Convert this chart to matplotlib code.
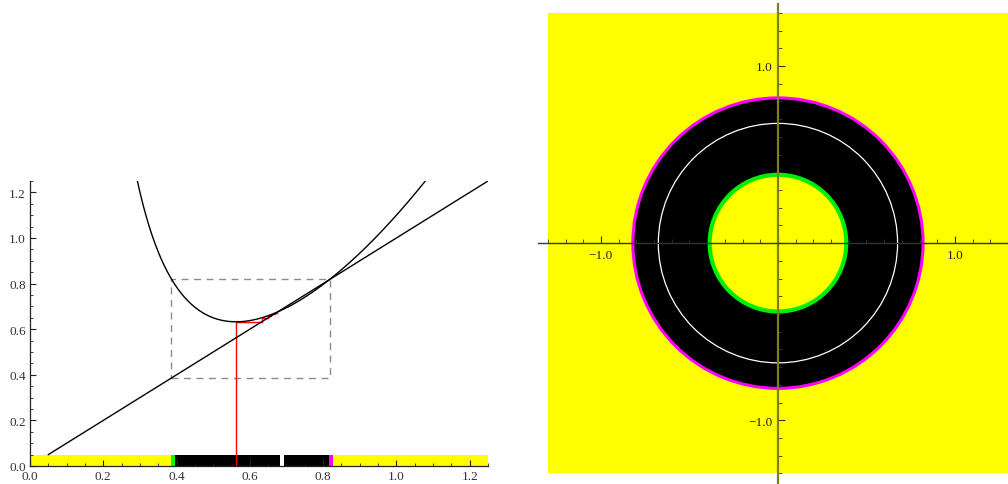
import matplotlib

matplotlib.use("Agg")
import matplotlib.pyplot as plt
import numpy as np
from matplotlib.patches import Circle, Rectangle
from matplotlib.ticker import MultipleLocator

plt.rcParams["font.family"] = ["Liberation Serif", "DejaVu Serif"]
plt.rcParams["font.size"] = 9.5

# map r -> r^2 + LAMBDA / r^2 (min ~0.632 at r ~0.56)
LAMBDA = 0.1
CURVE_RANGE = [0.28, 1.09]
DIAGONAL_X = [0.05, 1.25]
# cobweb iterates starting at r0
COBWEB = [0.563, 0.632, 0.650, 0.659, 0.665, 0.668, 0.670, 0.672, 0.673]
# dashed square [r_green, r_magenta]
BOX = [0.386, 0.82]
# colour strip along the r axis
BAND_LEFT = [0.0, 0.384, 0.395, 0.681, 0.692, 0.815, 0.826]
BAND_RIGHT = [0.384, 0.395, 0.681, 0.692, 0.815, 0.826, 1.25]
BAND_COLORS = ["#ffff00", "#00ff00", "#000000", "#ffffff", "#000000", "#ff00ff", "#ffff00"]
BAND_HEIGHT = 0.048
# circles in the plane
R_GREEN = 0.386
R_WHITE = 0.676
R_MAGENTA = 0.82
PLANE_EXTENT = 1.3

fig = plt.figure(figsize=(10.08, 4.85), dpi=100)

# ---- left: graph of the radial map ----
ax = fig.add_axes([30 / 1008, 18 / 485, 458 / 1008, 285 / 485])
ax.set_xlim(0, 1.25)
ax.set_ylim(0, 1.25)

r = np.linspace(CURVE_RANGE[0], CURVE_RANGE[1], 800)
fr = r**2 + LAMBDA / r**2
fr = np.where(fr <= 1.25, fr, np.nan)
ax.plot(r, fr, color="black", lw=1.0, zorder=3)
ax.plot(DIAGONAL_X, DIAGONAL_X, color="black", lw=1.0, zorder=3)

ax.add_patch(Rectangle((BOX[0], BOX[0]), BOX[1] - BOX[0], BOX[1] - BOX[0],
                       fill=False, ls=(0, (5, 4)), lw=1.0, ec="#8c8c8c", zorder=2))

cx, cy = [COBWEB[0]], [0.0]
for a, b in zip(COBWEB[:-1], COBWEB[1:]):
    cx += [a, b]
    cy += [b, b]
ax.plot(cx, cy, color="#ff0000", lw=1.0, zorder=2.8)

for x0, x1, c in zip(BAND_LEFT, BAND_RIGHT, BAND_COLORS):
    ax.add_patch(Rectangle((x0, 0), x1 - x0, BAND_HEIGHT, color=c, lw=0, zorder=1))

for side in ("top", "right"):
    ax.spines[side].set_visible(False)
for side in ("left", "bottom"):
    ax.spines[side].set_color("#222222")
    ax.spines[side].set_linewidth(0.9)
ax.xaxis.set_major_locator(MultipleLocator(0.2))
ax.xaxis.set_minor_locator(MultipleLocator(0.05))
ax.yaxis.set_major_locator(MultipleLocator(0.2))
ax.yaxis.set_minor_locator(MultipleLocator(0.05))
ax.tick_params(which="major", direction="in", length=4.5, width=0.8, color="#222222",
               labelcolor="#333333", pad=3)
ax.tick_params(which="minor", direction="in", length=2.5, width=0.6, color="#222222")
ax.xaxis.set_major_formatter(lambda v, p: f"{v:.1f}")
ax.yaxis.set_major_formatter(lambda v, p: f"{v:.1f}")

# ---- right: the plane ----
ax2 = fig.add_axes([538 / 1008, 0, 470 / 1008, 480 / 485])
ax2.set_xlim(-1.356, 1.30)
ax2.set_ylim(-1.36, 1.35)

e = PLANE_EXTENT
ax2.add_patch(Rectangle((-e, -e), 2 * e, 2 * e, color="#ffff00", lw=0, zorder=0.5))
ax2.add_patch(Circle((0, 0), R_MAGENTA, color="#000000", lw=0, zorder=0.6))
ax2.add_patch(Circle((0, 0), R_GREEN, color="#ffff00", lw=0, zorder=0.7))
ax2.add_patch(Circle((0, 0), R_GREEN, fill=False, ec="#00ee00", lw=3.0, zorder=0.8))
ax2.add_patch(Circle((0, 0), R_MAGENTA, fill=False, ec="#ff00ff", lw=2.2, zorder=0.8))
ax2.add_patch(Circle((0, 0), R_WHITE, fill=False, ec="#ffffff", lw=0.9, zorder=0.8))

ax2.spines["left"].set_position(("data", 0))
ax2.spines["bottom"].set_position(("data", 0))
ax2.spines["top"].set_visible(False)
ax2.spines["right"].set_visible(False)
ax2.spines["left"].set_color("#7f7f1a")
ax2.spines["left"].set_linewidth(1.6)
ax2.spines["bottom"].set_color("#333333")
ax2.spines["bottom"].set_linewidth(1.0)
for a in (ax2.xaxis, ax2.yaxis):
    a.set_major_locator(MultipleLocator(1.0))
    a.set_minor_locator(MultipleLocator(0.1))
    a.set_major_formatter(lambda v, p: "" if abs(v) < 1e-9 else f"{v:.1f}".replace("-", "\u2212"))
ax2.tick_params(which="major", direction="in", length=5, width=0.8, color="#333333",
                labelcolor="#222222", pad=4)
ax2.tick_params(which="minor", direction="in", length=3, width=0.6, color="#333333")

fig.savefig("out.png", dpi=100)
